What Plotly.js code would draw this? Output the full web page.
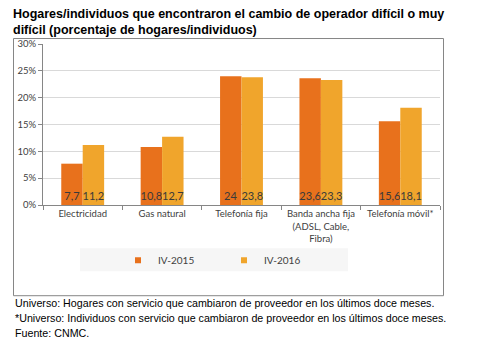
<!DOCTYPE html>
<html>
<head>
<meta charset="utf-8">
<script src="https://cdn.plot.ly/plotly-3.0.1.min.js"></script>
<style>
html,body{margin:0;padding:0;background:#fff;}
#chart{width:492px;height:353px;}
</style>
</head>
<body>
<div id="chart"></div>
<script>
const categories = ["Electricidad", "Gas natural", "Telefonía fija", "Banda ancha fija<br>(ADSL, Cable,<br>Fibra)", "Telefonía móvil*"];
const series2015 = [7.7, 10.8, 24, 23.6, 15.6];
const series2016 = [11.2, 12.7, 23.8, 23.3, 18.1];
const seriesNames = ["IV-2015", "IV-2016"];
const seriesColors = ['#E8711C', '#F0A52C'];
const yTicks = [0, 5, 10, 15, 20, 25, 30];
const titleText = "Hogares/individuos que encontraron el cambio de operador difícil o muy<br>difícil (porcentaje de hogares/individuos)";
const footerLines = [
  "Universo: Hogares con servicio que cambiaron de proveedor en los últimos doce meses.",
  "*Universo: Individuos con servicio que cambiaron de proveedor en los últimos doce meses.",
  "Fuente: CNMC."
];

const W = 492, H = 353;
const L = 43, R = 440, T = 44, B = 205.5;
const px = x => (x - L) / (R - L);
const py = y => (B - y) / (B - T);
const fmt = v => String(v).replace('.', ',');

const labelFont = {family: "Lato, 'Open Sans', sans-serif", size: 11, color: "#3a3a3a"};
const seriesData = [series2015, series2016];

const traces = [];
seriesData.forEach((vals, i) => {
  traces.push({type: 'bar', name: seriesNames[i], x: categories, y: vals,
    marker: {color: seriesColors[i]}, text: vals.map(fmt),
    textposition: 'inside', insidetextanchor: 'start', textangle: 0,
    constraintext: 'none', textfont: labelFont, hoverinfo: 'none',
    showlegend: false, legendgroup: seriesNames[i]});
});
seriesData.forEach((vals, i) => {
  traces.push({type: 'scatter', mode: 'markers', name: seriesNames[i], x: [null], y: [null],
    marker: {color: seriesColors[i], symbol: 'square', size: 6},
    showlegend: true, legendgroup: seriesNames[i], hoverinfo: 'none'});
});

const annotations = footerLines.map((t, i) => ({
  text: t, xref: 'paper', yref: 'paper', x: px(13), y: py(304 + i * 15),
  xanchor: 'left', yanchor: 'middle', showarrow: false,
  font: {family: "'Liberation Sans', Arial, sans-serif", size: 10.7, color: '#000'}
}));

const layout = {
  width: W, height: H,
  margin: {l: L, r: W - R, t: T, b: H - B, pad: 0},
  paper_bgcolor: '#fff', plot_bgcolor: '#fff',
  showlegend: true,
  title: {text: titleText, xref: 'container', yref: 'container', x: 13 / W, xanchor: 'left',
          y: 1 - 17.5 / H, yanchor: 'top',
          font: {family: "'Liberation Sans', Arial, sans-serif", size: 12.5, color: '#000', weight: 'bold'}},
  barmode: 'group', bargap: 0.46, bargroupgap: 0,
  xaxis: {type: 'category', showline: true, linecolor: '#868686', linewidth: 1,
          ticks: 'outside', tickson: 'boundaries', ticklen: 4, tickcolor: '#868686',
          tickfont: {family: "Lato, 'Open Sans', sans-serif", size: 9.5, color: '#404040'},
          showgrid: false, fixedrange: true},
  yaxis: {range: [0, 30], tickvals: yTicks, ticktext: yTicks.map(v => v + '%'),
          showline: true, linecolor: '#868686', linewidth: 1,
          ticks: 'outside', ticklen: 4, tickcolor: '#868686',
          showgrid: true, gridcolor: '#d9d9d9', gridwidth: 1, zeroline: false,
          tickfont: {family: "Lato, 'Open Sans', sans-serif", size: 9.5, color: '#404040'},
          fixedrange: true},
  legend: {orientation: 'h', x: px(118), xanchor: 'left', y: py(261), yanchor: 'middle',
           bgcolor: 'rgba(0,0,0,0)', entrywidth: 61, entrywidthmode: 'pixels',
           font: {family: "Lato, 'Open Sans', sans-serif", size: 10, color: '#404040'},
           itemwidth: 30, tracegroupgap: 0},
  shapes: [
    {type: 'rect', xref: 'paper', yref: 'paper', x0: px(80), x1: px(348), y0: py(272), y1: py(249),
     fillcolor: '#f6f6f6', line: {width: 0}, layer: 'below'},
    {type: 'rect', xref: 'paper', yref: 'paper', x0: px(13.5), x1: px(443.5), y0: py(296.5), y1: py(38.5),
     fillcolor: 'rgba(0,0,0,0)', line: {color: '#868686', width: 1}, layer: 'below'}
  ],
  annotations: annotations
};

Plotly.newPlot('chart', traces, layout, {displayModeBar: false, staticPlot: true});
</script>
</body>
</html>
